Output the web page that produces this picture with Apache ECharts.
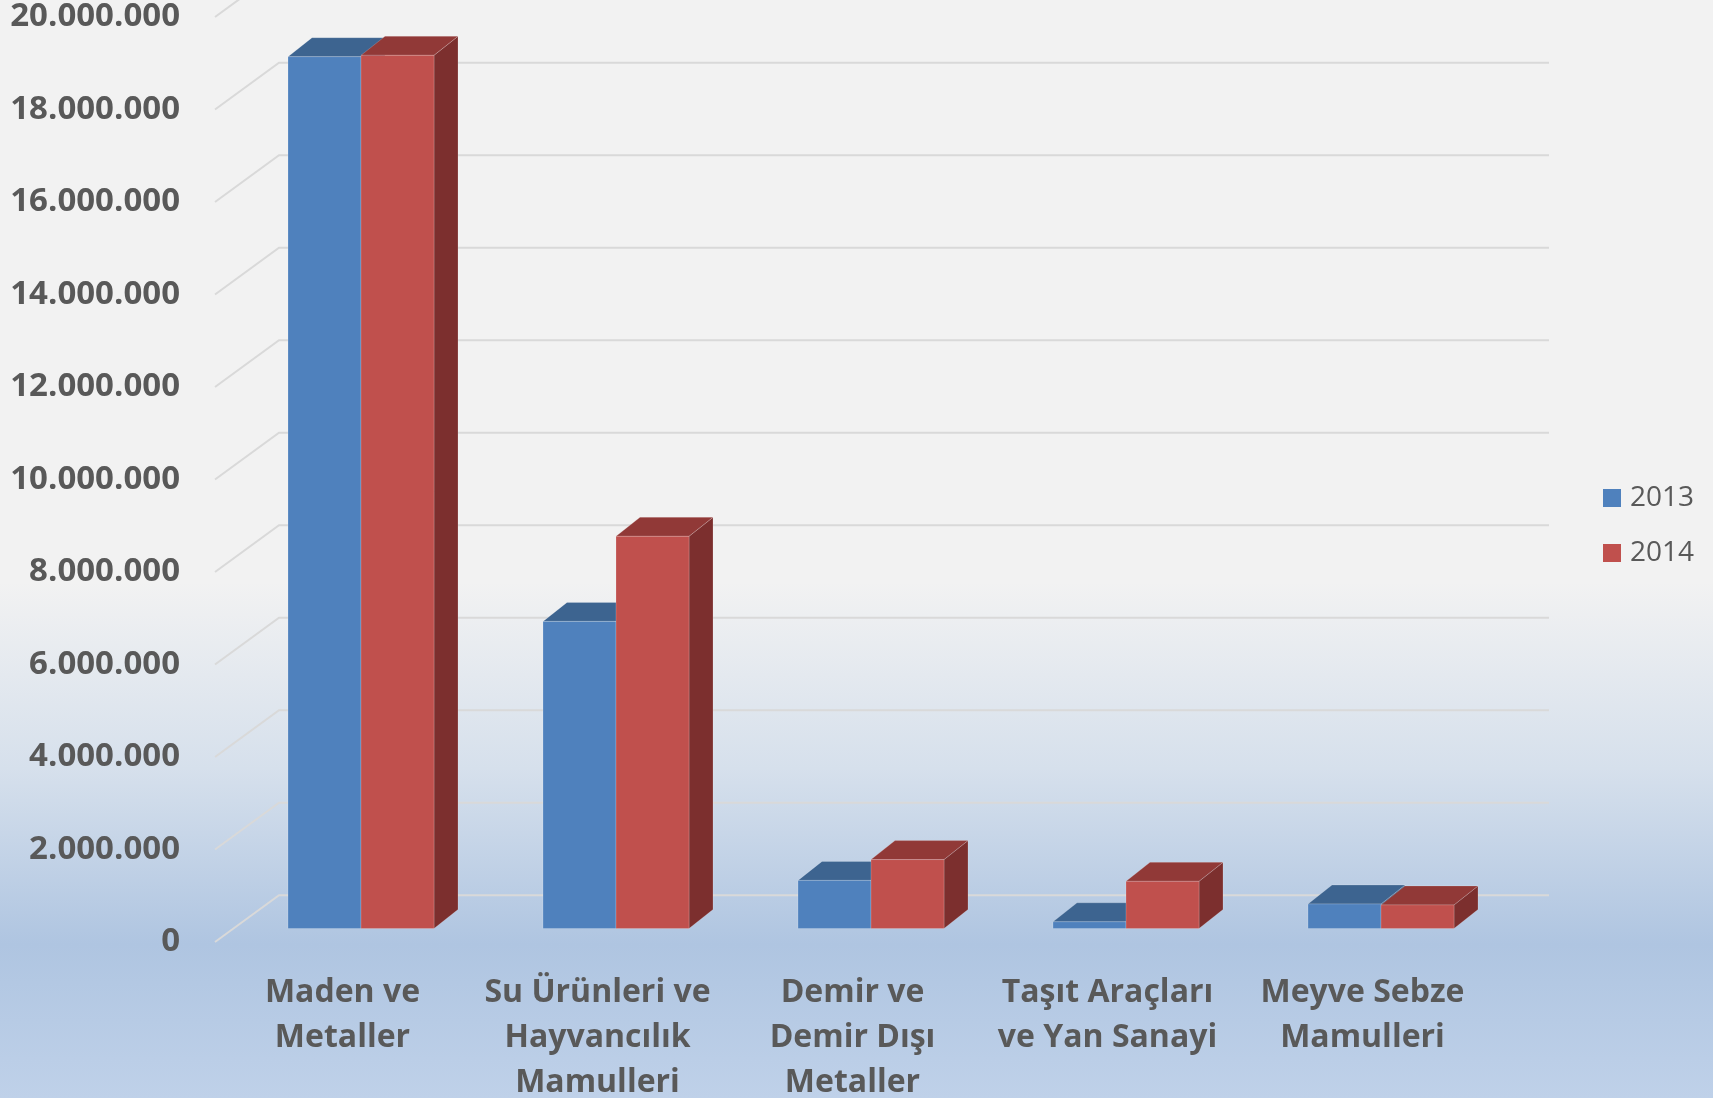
<!DOCTYPE html>
<html>
<head>
<meta charset="utf-8">
<script src="https://cdn.jsdelivr.net/npm/echarts@6/dist/echarts.min.js"></script>
<style>
html,body{margin:0;padding:0;}
#chart{width:1713px;height:1098px;}
</style>
</head>
<body>
<div id="chart"></div>
<script>
// ---- data ----
var categories = ['Maden ve\nMetaller', 'Su Ürünleri ve\nHayvancılık\nMamulleri', 'Demir ve\nDemir Dışı\nMetaller', 'Taşıt Araçları\nve Yan Sanayi', 'Meyve Sebze\nMamulleri'];
var seriesNames = ['2013', '2014'];
var values2013 = [18850000, 6640000, 1040000, 145000, 530000];
var values2014 = [18880000, 8480000, 1490000, 1020000, 510000];
var yTicks = [0, 2000000, 4000000, 6000000, 8000000, 10000000, 12000000, 14000000, 16000000, 18000000, 20000000];

// ---- styling constants ----
var WALL_DX = 64, WALL_DY = -46.7;     // floor depth (front edge -> back wall)
var BAR_OX = 18.5, BAR_OY = -13.5;     // front plane -> bar front face
var BAR_DX = 24, BAR_DY = -19;         // bar depth
var BAR_W = 73;
var colors = {
  '2013': {front: '#4F81BD', top: '#3D6490', side: '#36597F'},
  '2014': {front: '#C0504D', top: '#913937', side: '#7C2F2E'}
};
var textColor = '#595959';
var FONT = '"Open Sans", "Noto Sans", sans-serif';

function fmt(v) {
  return String(v).replace(/\B(?=(\d{3})+(?!\d))/g, '.');
}

function makeBarRenderer(name, side) {
  var c = colors[name];
  return function (params, api) {
    var i = api.value(0), v = api.value(1);
    var base = api.coord([i, 0]);
    var top = api.coord([i, v]);
    var x0 = base[0] + BAR_OX + (side < 0 ? -BAR_W : 0);
    var x1 = x0 + BAR_W;
    var y0 = base[1] + BAR_OY;
    var y1 = top[1] + BAR_OY;
    var edge = {stroke: 'rgba(255,255,255,0.18)', lineWidth: 1};
    return {
      type: 'group',
      children: [
        {type: 'polygon', shape: {points: [[x1, y1], [x1 + BAR_DX, y1 + BAR_DY], [x1 + BAR_DX, y0 + BAR_DY], [x1, y0]]},
         style: Object.assign({fill: c.side}, edge)},
        {type: 'polygon', shape: {points: [[x0, y1], [x0 + BAR_DX, y1 + BAR_DY], [x1 + BAR_DX, y1 + BAR_DY], [x1, y1]]},
         style: Object.assign({fill: c.top}, edge)},
        {type: 'rect', shape: {x: x0, y: y1, width: BAR_W, height: y0 - y1},
         style: Object.assign({fill: c.front}, edge)}
      ]
    };
  };
}

function renderGrid(params, api) {
  var v = api.value(1);
  var y = api.coord([0, v])[1];
  var left = params.coordSys.x;
  var right = params.coordSys.x + params.coordSys.width;
  return {
    type: 'polyline',
    shape: {points: [[left, y], [left + WALL_DX, y + WALL_DY], [right + WALL_DX - 5, y + WALL_DY]]},
    style: {stroke: '#D9D9D9', lineWidth: 2, fill: null}
  };
}

var chart = echarts.init(document.getElementById('chart'));
chart.setOption({
  backgroundColor: new echarts.graphic.LinearGradient(0, 0, 0, 1, [
    {offset: 0, color: '#F2F2F2'},
    {offset: 0.53, color: '#F2F2F2'},
    {offset: 0.7, color: '#D6E0EC'},
    {offset: 0.86, color: '#AFC5E1'},
    {offset: 1, color: '#BFD1E9'}
  ]),
  animation: false,
  grid: {left: 215, right: 223, top: 17, bottom: 156, containLabel: false, outerBoundsMode: 'none'},
  legend: {
    orient: 'vertical',
    left: 1603,
    top: 484,
    padding: 0,
    itemWidth: 18,
    itemHeight: 18,
    itemGap: 27,
    icon: 'rect',
    data: seriesNames,
    textStyle: {fontFamily: FONT, fontSize: 28, color: textColor, lineHeight: 28, padding: [0, 0, 0, 4]}
  },
  xAxis: {
    type: 'category',
    data: categories,
    axisLine: {show: false},
    axisTick: {show: false},
    splitLine: {show: false},
    axisLabel: {
      interval: 0,
      margin: 28,
      fontFamily: FONT,
      fontWeight: 'bold',
      fontSize: 32,
      lineHeight: 45,
      color: textColor,
      align: 'center'
    }
  },
  yAxis: {
    type: 'value',
    min: 0,
    max: 20000000,
    interval: 2000000,
    axisLine: {show: false},
    axisTick: {show: false},
    splitLine: {show: false},
    axisLabel: {
      margin: 35,
      fontFamily: FONT,
      fontWeight: 'bold',
      fontSize: 33,
      color: textColor,
      padding: [4, 0, 0, 0],
      formatter: fmt
    }
  },
  series: [
    {
      type: 'custom',
      name: 'grid',
      silent: true,
      z: 1,
      renderItem: renderGrid,
      data: yTicks.map(function (v) { return [0, v]; }),
      encode: {x: 0, y: 1}
    },
    {
      type: 'custom',
      name: seriesNames[0],
      z: 2,
      itemStyle: {color: colors['2013'].front},
      renderItem: makeBarRenderer('2013', -1),
      data: values2013.map(function (v, i) { return [i, v]; }),
      encode: {x: 0, y: 1}
    },
    {
      type: 'custom',
      name: seriesNames[1],
      z: 3,
      itemStyle: {color: colors['2014'].front},
      renderItem: makeBarRenderer('2014', 1),
      data: values2014.map(function (v, i) { return [i, v]; }),
      encode: {x: 0, y: 1}
    }
  ]
});
</script>
</body>
</html>
